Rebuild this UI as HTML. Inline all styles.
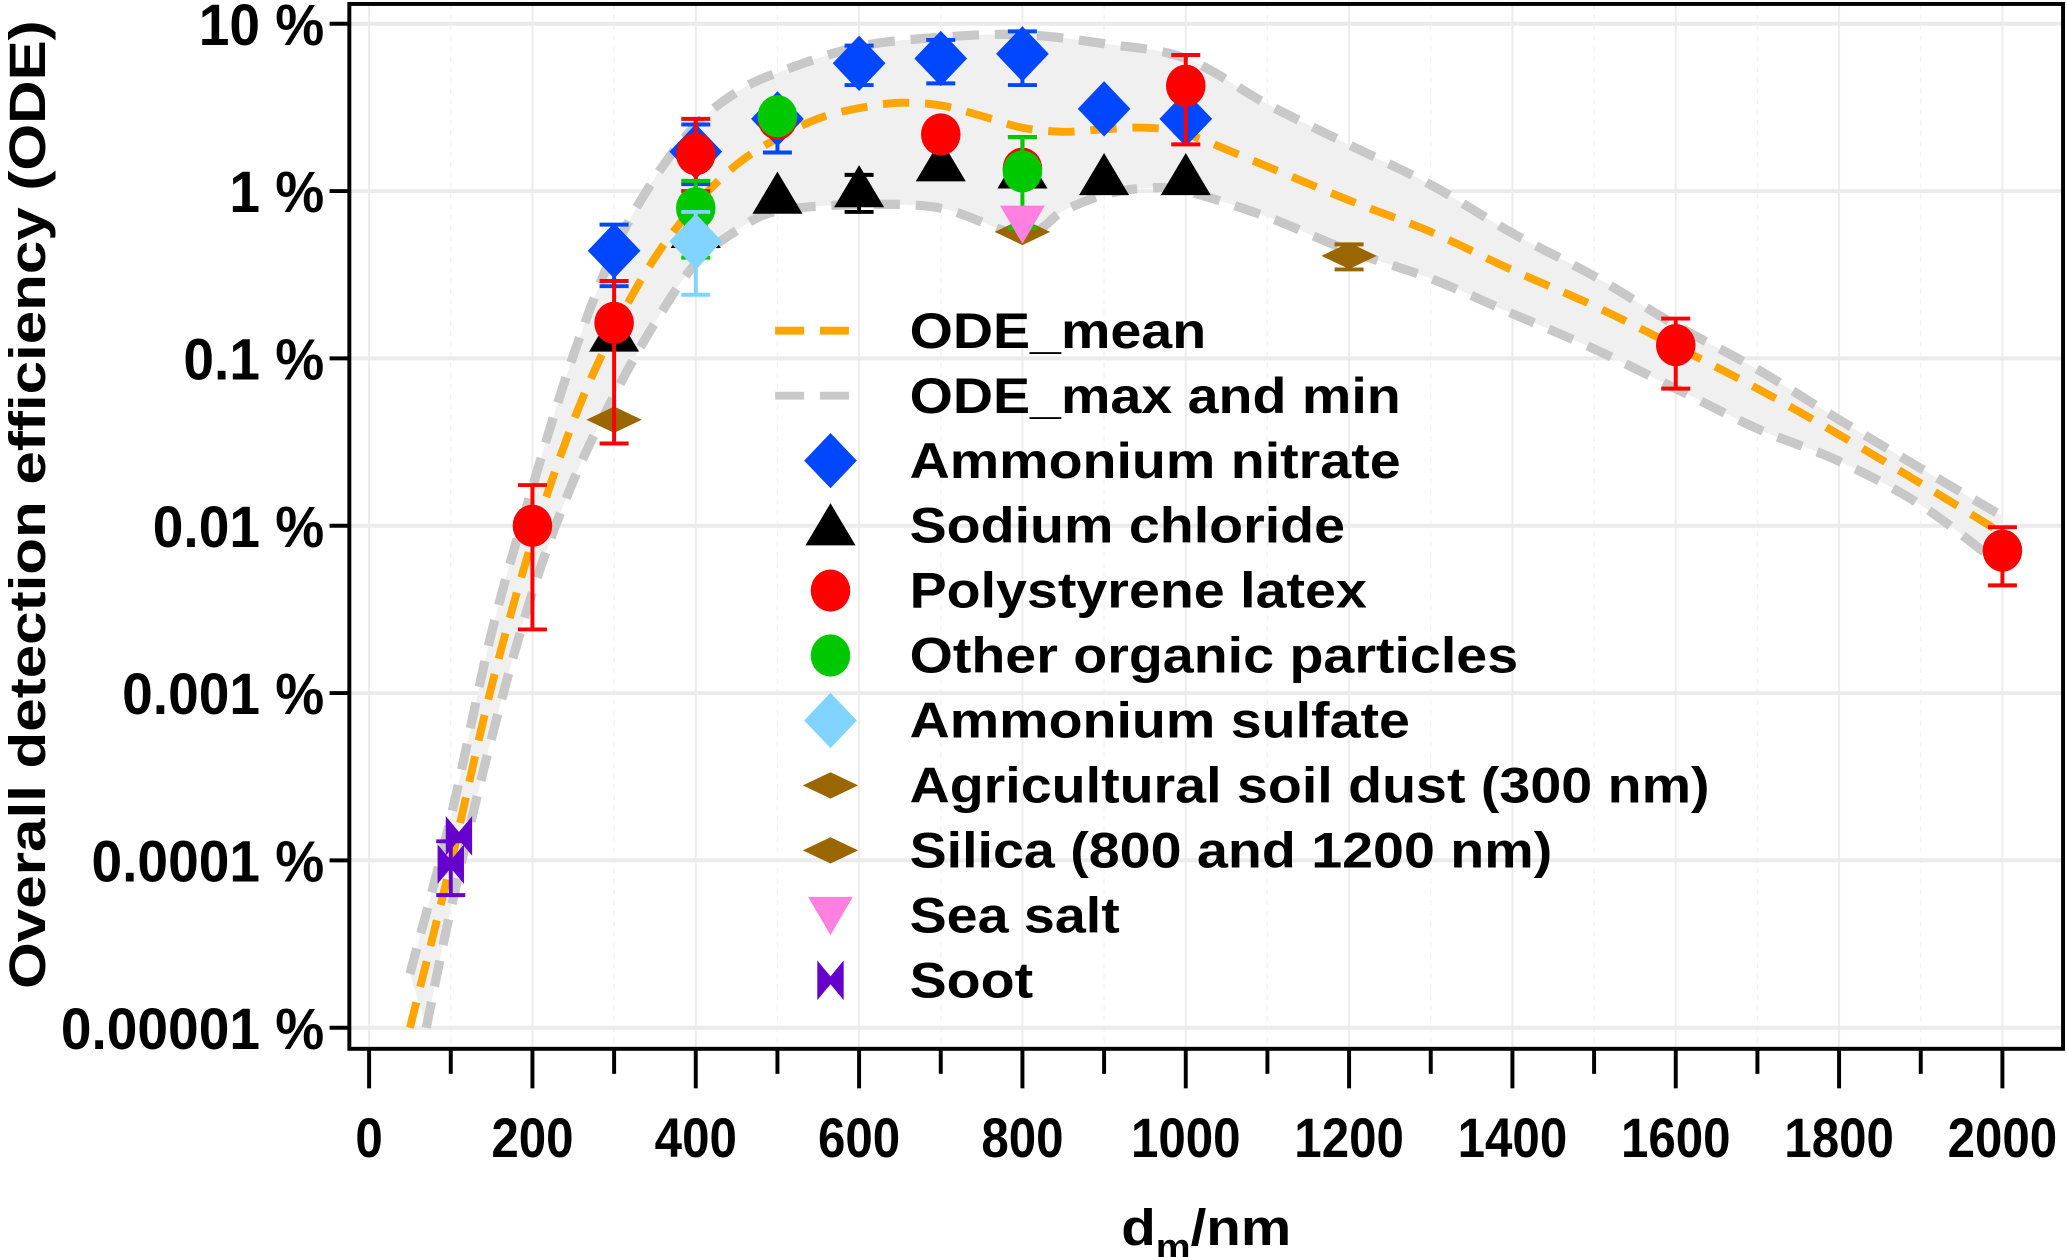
<!DOCTYPE html>
<html><head><meta charset="utf-8"><style>
html,body{margin:0;padding:0;background:#fff}
svg{display:block}
text{font-family:"Liberation Sans",Arial,sans-serif;font-weight:bold;fill:#000}
</style></head><body>
<svg id="chart" width="2067" height="1257" viewBox="0 0 1568 954" preserveAspectRatio="none" xmlns="http://www.w3.org/2000/svg">
<g id="grid"></g>
<g id="band"></g>
<g id="lines"></g>
<g id="marks"></g>
<g id="axes"></g>
<g id="legend"></g>
<text transform="translate(34,383) rotate(-90) scale(1.17,1)" text-anchor="middle" font-size="39">Overall detection efficiency (ODE)</text>
<text transform="translate(915,945) scale(1.1,1)" text-anchor="middle" font-size="39">d<tspan font-size="27" dy="10">m</tspan><tspan dy="-10">/nm</tspan></text>
</svg>
<script>
const xTicks=[0,200,400,600,800,1000,1200,1400,1600,1800,2000];
const yTicks=[10,1,0.1,0.01,0.001,0.0001,0.00001];
const yTickLabels=["10 %","1 %","0.1 %","0.01 %","0.001 %","0.0001 %","0.00001 %"];
const meanX=[50,100,150,200,250,300,350,400,450,500,550,600,650,700,750,800,850,900,950,1000,1100,1200,1300,1400,1500,1600,1700,1800,1900,2000];
const meanY=[1e-5,9.6e-5,1.1e-3,8.2e-3,0.042,0.149,0.40,0.83,1.44,2.07,2.71,3.13,3.37,3.25,2.81,2.39,2.26,2.34,2.39,2.2,1.4,0.88,0.57,0.337,0.206,0.118,0.066,0.035,0.0179,0.009];
const maxX=[50,100,150,200,250,300,350,400,450,500,600,700,800,900,1000,1100,1200,1300,1400,1500,1600,1700,1800,1900,2000];
const maxY=[2.1e-5,1.8e-4,2.3e-3,0.017,0.104,0.44,1.2,2.48,3.9,5.1,7.3,8.3,8.6,7.6,6.2,3.3,1.89,1.09,0.56,0.31,0.158,0.086,0.043,0.022,0.0114];
const minX=[70,100,150,200,250,300,350,400,450,500,600,700,800,850,900,950,1000,1100,1200,1300,1400,1500,1600,1700,1800,1900,2000];
const minY=[1e-5,5.1e-5,5.4e-4,4.0e-3,0.0185,0.06,0.163,0.37,0.58,0.76,0.83,0.79,0.55,0.76,0.95,1.04,1.0,0.70,0.44,0.30,0.185,0.114,0.066,0.038,0.0243,0.0133,0.0057];
const nitrateD=[300,400,500,600,700,800,900,1000];
const nitrateV=[0.44,1.72,2.7,5.8,6.2,6.6,3.1,2.7];
const nitrateLo=[0.27,1.1,1.7,4.3,4.4,4.3,null,null];
const nitrateHi=[0.63,2.5,3.3,7.4,8.0,9.0,null,null];
const naclD=[300,400,500,600,700,800,900,1000];
const naclV=[0.144,0.6,0.96,1.05,1.5,1.36,1.24,1.24];
const naclLo=[null,null,null,0.75,null,null,null,null];
const naclHi=[null,null,null,1.25,null,null,null,null];
const pslD=[200,300,400,500,700,800,1000,1600,2000];
const pslV=[0.01,0.163,1.66,2.7,2.18,1.36,4.26,0.12,0.0071];
const pslLo=[0.0024,0.031,1.0,null,null,null,1.9,0.066,0.0044];
const pslHi=[0.0175,0.29,2.7,null,null,2.1,6.5,0.173,0.0098];
const orgD=[400,500,800];
const orgV=[0.79,2.8,1.31];
const orgLo=[0.4,null,0.6];
const orgHi=[1.15,null,2.1];
const sulfD=[400];
const sulfV=[0.5];
const sulfLo=[0.24];
const sulfHi=[0.75];
const soilD=[300];
const soilV=[0.043];
const silicaD=[800,1200];
const silicaV=[0.57,0.41];
const silicaLo=[null,0.34];
const silicaHi=[null,0.48];
const seaD=[800];
const seaV=[0.635];
const sootD=[100,110];
const sootV=[9.5e-5,1.4e-4];
const sootLo=[6.2e-5,null];
const sootHi=[1.3e-4,null];

const NS="http://www.w3.org/2000/svg";
const L=265,R=1565,T=3,B=796;
const xS=d=>280+d*(1519-280)/2000;
const yS=v=>145-127*Math.log10(v);
function mk(tag,attrs,parent){const e=document.createElementNS(NS,tag);for(const k in attrs)e.setAttribute(k,attrs[k]);parent.appendChild(e);return e;}
const G=id=>document.getElementById(id);

for(let d=0;d<=2000;d+=100){
  const g=mk('line',{x1:xS(d),x2:xS(d),y1:T,y2:B,stroke:d%200===0?'#ececec':'#f3f3f3','stroke-width':d%200===0?1.5:1,'stroke-dasharray':d%200===0?'':'4 4'},G('grid'));
  
  
}
yTicks.forEach(v=>{
  const g=mk('line',{x1:L,x2:R,y1:yS(v),y2:yS(v),stroke:'#ebebeb','stroke-width':3},G('grid'));
  
  
});

function smooth(xs,ys){
  const P=xs.map((x,i)=>[xS(x),yS(ys[i])]);
  let s=`M${P[0][0]},${P[0][1]}`;
  for(let i=0;i<P.length-1;i++){
    const p0=P[Math.max(0,i-1)],p1=P[i],p2=P[i+1],p3=P[Math.min(P.length-1,i+2)];
    s+=` C${p1[0]+(p2[0]-p0[0])/6},${p1[1]+(p2[1]-p0[1])/6} ${p2[0]-(p3[0]-p1[0])/6},${p2[1]-(p3[1]-p1[1])/6} ${p2[0]},${p2[1]}`;
  }
  return s;
}
const upP=smooth(maxX,maxY);
const loRev=smooth(minX.slice().reverse(),minY.slice().reverse());
const bandEl=mk('path',{d:upP+' L'+loRev.slice(1)+' Z',fill:'#f0f0f0',stroke:'none'},G('band'));


const mx=mk('path',{d:upP,fill:'none',stroke:'#c8c8c8','stroke-width':7,'stroke-dasharray':'20 12'},G('lines'));


const mn=mk('path',{d:smooth(minX,minY),fill:'none',stroke:'#c8c8c8','stroke-width':7,'stroke-dasharray':'20 12'},G('lines'));


const me=mk('path',{d:smooth(meanX,meanY),fill:'none',stroke:'#ffa500','stroke-width':6,'stroke-dasharray':'20 12'},G('lines'));



function shape(type,cx,cy,color,parent){
  let e;
  if(type==='diamond')e=mk('polygon',{points:`${cx},${cy-21} ${cx+20},${cy} ${cx},${cy+21} ${cx-20},${cy}`,fill:color},parent);
  else if(type==='flat')e=mk('polygon',{points:`${cx},${cy-10} ${cx+21},${cy} ${cx},${cy+10} ${cx-21},${cy}`,fill:color},parent);
  else if(type==='circle')e=mk('ellipse',{cx:cx,cy:cy,rx:15,ry:16,fill:color},parent);
  else if(type==='tri')e=mk('polygon',{points:`${cx},${cy-17} ${cx+19},${cy+15} ${cx-19},${cy+15}`,fill:color},parent);
  else if(type==='tridown')e=mk('polygon',{points:`${cx-17},${cy-14} ${cx+17},${cy-14} ${cx},${cy+15}`,fill:color},parent);
  else if(type==='bowtie')e=mk('polygon',{points:`${cx-10},${cy-15} ${cx},${cy-3} ${cx+10},${cy-15} ${cx+10},${cy+15} ${cx},${cy+3} ${cx-10},${cy+15}`,fill:color},parent);
  return e;
}
function errbar(x,lo,hi,color,parent){
  const g=mk('g',{},parent);
  
  
  mk('line',{x1:x,x2:x,y1:yS(lo),y2:yS(hi),stroke:color,'stroke-width':3},g);
  mk('line',{x1:x-11,x2:x+11,y1:yS(lo),y2:yS(lo),stroke:color,'stroke-width':3},g);
  mk('line',{x1:x-11,x2:x+11,y1:yS(hi),y2:yS(hi),stroke:color,'stroke-width':3},g);
}
function series(name,D,V,Lo,Hi,type,color){
  const g=mk('g',{},G('marks'));
  
  
  D.forEach((d,i)=>{
    const cx=xS(d),cy=yS(V[i]);
    if(Lo&&Hi){const lo=Lo[i]!=null?Lo[i]:V[i],hi=Hi[i]!=null?Hi[i]:V[i];if(Lo[i]!=null||Hi[i]!=null)errbar(cx,lo,hi,color,g);}
    const p=shape(type,cx,cy,color,g);
    
    
  });
}
series('sodium-chloride',naclD,naclV,naclLo,naclHi,'tri','#000000');
series('agricultural-soil-dust',soilD,soilV,null,null,'flat','#996600');
series('silica',silicaD,silicaV,silicaLo,silicaHi,'flat','#996600');
series('ammonium-nitrate',nitrateD,nitrateV,nitrateLo,nitrateHi,'diamond','#0047ff');
series('polystyrene-latex',pslD,pslV,pslLo,pslHi,'circle','#ff0000');
series('other-organic',orgD,orgV,orgLo,orgHi,'circle','#00c800');
series('ammonium-sulfate',sulfD,sulfV,sulfLo,sulfHi,'diamond','#80d4ff');
series('sea-salt',seaD,seaV,null,null,'tridown','#ff80e0');
series('soot',sootD,sootV,sootLo,sootHi,'bowtie','#6600cc');

const ax=G('axes');
const frame=mk('rect',{x:L,y:T,width:R-L,height:B-T,fill:'none',stroke:'#000','stroke-width':3},ax);


for(let d=0;d<=2000;d+=100){
  const t=mk('line',{x1:xS(d),x2:xS(d),y1:B,y2:d%200===0?B+30:B+19,stroke:'#000','stroke-width':3},ax);
  
  
}
xTicks.forEach(d=>{
  const t=mk('text',{transform:`translate(${xS(d)},878) scale(0.89,1)`,'text-anchor':'middle','font-size':42},ax);
  t.textContent=d;
  
  
});
yTicks.forEach((v,i)=>{
  const tk=mk('line',{x1:L-15,x2:L,y1:yS(v),y2:yS(v),stroke:'#000','stroke-width':3},ax);
  
  
  const t=mk('text',{transform:`translate(246,${yS(v)+16}) scale(0.95,1)`,'text-anchor':'end','font-size':44},ax);
  t.textContent=yTickLabels[i];
  
  
});

const legendLabels=["ODE_mean","ODE_max and min","Ammonium nitrate","Sodium chloride","Polystyrene latex","Other organic particles","Ammonium sulfate","Agricultural soil dust (300 nm)","Silica (800 and 1200 nm)","Sea salt","Soot"];
const legendTypes=["line","line","diamond","tri","circle","circle","diamond","flat","flat","tridown","bowtie"];
const legendColors=["#ffa500","#c8c8c8","#0047ff","#000000","#ff0000","#00c800","#80d4ff","#996600","#996600","#ff80e0","#6600cc"];
legendLabels.forEach((lab,i)=>{
  const y=251+i*49.3;
  const g=mk('g',{},G('legend'));
  
  
  if(legendTypes[i]==='line')mk('line',{x1:588,x2:652,y1:y,y2:y,stroke:legendColors[i],'stroke-width':6,'stroke-dasharray':'22 12'},g);
  else shape(legendTypes[i],630,y,legendColors[i],g);
  const t=mk('text',{transform:`translate(690,${y+13}) scale(1.11,1)`,'font-size':38},g);
  t.textContent=lab;
});
</script>
</body></html>
